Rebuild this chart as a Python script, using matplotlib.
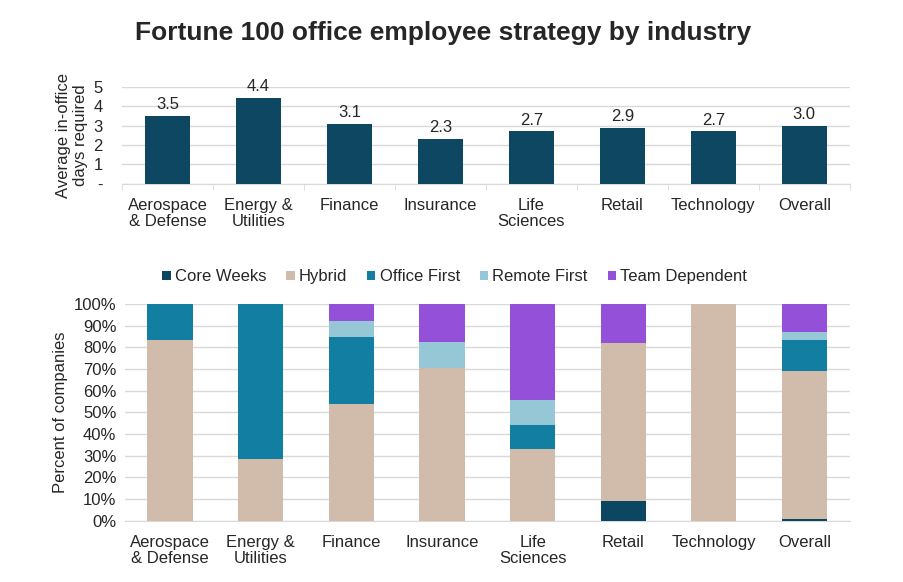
import matplotlib.pyplot as plt
import numpy as np

plt.rcParams['font.family'] = ['Liberation Sans', 'DejaVu Sans']

industries = ["Aerospace\n& Defense", "Energy &\nUtilities", "Finance", "Insurance",
              "Life\nSciences", "Retail", "Technology", "Overall"]
avg_days = [3.5, 4.4, 3.1, 2.3, 2.7, 2.9, 2.7, 3.0]

strategies = ["Core Weeks", "Hybrid", "Office First", "Remote First", "Team Dependent"]
core_weeks = [0, 0, 0, 0, 0, 9.1, 0, 1.0]
hybrid = [83.3, 28.6, 53.8, 70.6, 33.3, 72.7, 100, 68.0]
office_first = [16.7, 71.4, 30.8, 0, 11.1, 0, 0, 14.3]
remote_first = [0, 0, 7.7, 11.8, 11.1, 0, 0, 3.8]
team_dependent = [0, 0, 7.7, 17.6, 44.4, 18.2, 0, 12.9]

colors = ["#0b4760", "#d1bcab", "#127fa2", "#96c7d7", "#9450d9"]
bar_color = "#0d4761"
grid_color = "#d9d9d9"
text_color = "#262626"
fs = 12

fig = plt.figure(figsize=(9.04, 5.82), dpi=100)
fig.text(0.49, 0.943, "Fortune 100 office employee strategy by industry",
         ha="center", va="center", fontsize=19, fontweight="bold", color=text_color)

x = np.arange(len(industries))

# top chart: average days
ax1 = fig.add_axes([0.135, 0.684, 0.805, 0.167])
ax1.bar(x, avg_days, width=0.5, color=bar_color, zorder=3)
for xi, v in zip(x, avg_days):
    ax1.text(xi, v + 0.2, f"{v:.1f}", ha="center", va="bottom", fontsize=fs, color=text_color)
ax1.set_xlim(-0.5, len(industries) - 0.5)
ax1.set_ylim(0, 5)
ax1.set_yticks([0, 1, 2, 3, 4, 5])
ax1.set_yticklabels(["-", "1", "2", "3", "4", "5"])
ax1.yaxis.grid(True, color=grid_color, lw=1, zorder=0)
ax1.set_xticks(x)
ax1.set_xticklabels(industries, fontsize=fs, color=text_color, linespacing=1.1)
ax1.set_xticks(np.arange(len(industries) + 1) - 0.5, minor=True)
ax1.tick_params(axis="x", which="major", length=0, pad=10)
ax1.tick_params(axis="x", which="minor", length=4, color=grid_color)
ax1.tick_params(axis="y", length=0, labelsize=fs, labelcolor=text_color, pad=14)
for s in ["top", "right", "left"]:
    ax1.spines[s].set_visible(False)
ax1.spines["bottom"].set_color(grid_color)
ax1.set_ylabel("Average in-office\ndays required", fontsize=fs, color=text_color, linespacing=1.1)

# bottom chart: strategy mix
ax2 = fig.add_axes([0.138, 0.105, 0.802, 0.373])
series = [core_weeks, hybrid, office_first, remote_first, team_dependent]
bottom = np.zeros(len(industries))
for name, vals, c in zip(strategies, series, colors):
    ax2.bar(x, vals, width=0.5, bottom=bottom, color=c, label=name, zorder=3)
    bottom += np.array(vals)
ax2.set_xlim(-0.5, len(industries) - 0.5)
ax2.set_ylim(0, 100)
ax2.set_yticks(np.arange(0, 101, 10))
ax2.set_yticklabels([f"{t}%" for t in range(0, 101, 10)])
ax2.yaxis.grid(True, color=grid_color, lw=1, zorder=0)
ax2.set_xticks(x)
ax2.set_xticklabels(industries, fontsize=fs, color=text_color, linespacing=1.1)
ax2.tick_params(axis="x", length=0, pad=10)
ax2.tick_params(axis="y", length=0, labelsize=fs, labelcolor=text_color, pad=6)
for s in ["top", "right", "left"]:
    ax2.spines[s].set_visible(False)
ax2.spines["bottom"].set_color(grid_color)
ax2.set_ylabel("Percent of companies", fontsize=fs, color=text_color)

ax2.legend(loc="lower center", bbox_to_anchor=(0.455, 1.02), ncol=5, frameon=False,
           fontsize=fs, handlelength=0.5, handleheight=0.5, handletextpad=0.25,
           columnspacing=1.2, labelcolor=text_color)

fig.savefig("out.png", dpi=100)
